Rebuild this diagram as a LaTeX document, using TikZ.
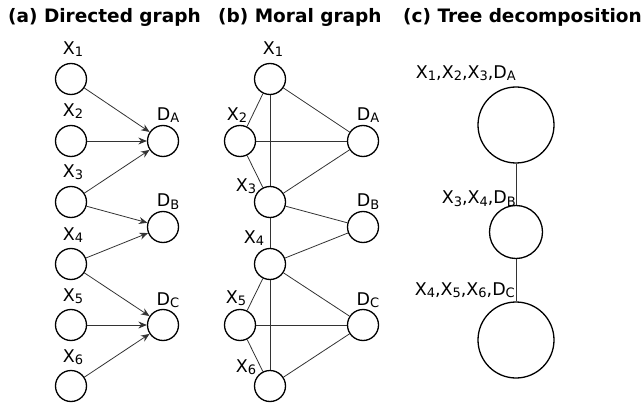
\documentclass[tikz,border=0pt]{standalone}
\usepackage{fontspec}
\setmainfont{DejaVu Sans}
\usetikzlibrary{arrows.meta}
\newcommand{\ssub}[1]{\raisebox{-2pt}{\fontsize{13}{13}\selectfont #1}}
\tikzset{
  vnode/.style={circle,draw=black,line width=1.3pt,minimum size=31pt,inner sep=0pt},
  bignode/.style={circle,draw=black,line width=1.3pt,minimum size=76pt,inner sep=0pt},
  midnode/.style={circle,draw=black,line width=1.3pt,minimum size=53pt,inner sep=0pt},
  lbl/.style={anchor=base,inner sep=0pt,font=\fontsize{17.5}{17.5}\selectfont},
  ttl/.style={anchor=base west,inner sep=0pt,font=\fontsize{18.5}{18.5}\selectfont\bfseries},
  edge/.style={draw=black!80,line width=0.8pt},
  arr/.style={edge,-{Stealth[length=8.5pt,width=7pt]}}
}
\begin{document}
\begin{tikzpicture}[x=1pt,y=-1pt]
\useasboundingbox (0,0) rectangle (642,406);
% titles
\node[ttl] (ta) at (8,23) {(a) Directed graph};
\node[ttl] (tb) at (218,23) {(b) Moral graph};
\node[ttl] (tc) at (403,23) {(c) Tree decomposition};
% (a)
\node[vnode] (a1) at (71,79) {};
\node[vnode] (a2) at (71,141) {};
\node[vnode] (a3) at (71,202) {};
\node[vnode] (a4) at (71,264) {};
\node[vnode] (a5) at (71,325) {};
\node[vnode] (a6) at (71,386) {};
\node[vnode] (aA) at (163,141) {};
\node[vnode] (aB) at (163,227) {};
\node[vnode] (aC) at (163,325) {};
\node[lbl] (la1) at (73,55) {X\ssub{1}};
\node[lbl] (la2) at (73,117) {X\ssub{2}};
\node[lbl] (la3) at (73,178) {X\ssub{3}};
\node[lbl] (la4) at (73,240) {X\ssub{4}};
\node[lbl] (la5) at (73,301) {X\ssub{5}};
\node[lbl] (la6) at (73,362) {X\ssub{6}};
\node[lbl] (laA) at (168,121) {D\ssub{A}};
\node[lbl] (laB) at (168,207) {D\ssub{B}};
\node[lbl] (laC) at (168,305) {D\ssub{C}};
\draw[arr] (a1) -- (aA);
\draw[arr] (a2) -- (aA);
\draw[arr] (a3) -- (aA);
\draw[arr] (a3) -- (aB);
\draw[arr] (a4) -- (aB);
\draw[arr] (a4) -- (aC);
\draw[arr] (a5) -- (aC);
\draw[arr] (a6) -- (aC);
% (b)
\node[vnode] (b1) at (270,79) {};
\node[vnode] (b2) at (240,141) {};
\node[vnode] (b3) at (270,202) {};
\node[vnode] (b4) at (270,264) {};
\node[vnode] (b5) at (240,325) {};
\node[vnode] (b6) at (270,386) {};
\node[vnode] (bA) at (363,141) {};
\node[vnode] (bB) at (363,227) {};
\node[vnode] (bC) at (363,325) {};
\node[lbl] (lb1) at (273,55) {X\ssub{1}};
\node[lbl] (lb2) at (237,121) {X\ssub{2}};
\node[lbl] (lb3) at (246,191) {X\ssub{3}};
\node[lbl] (lb4) at (254,243) {X\ssub{4}};
\node[lbl] (lb5) at (236,303) {X\ssub{5}};
\node[lbl] (lb6) at (246,372) {X\ssub{6}};
\node[lbl] (lbA) at (368,121) {D\ssub{A}};
\node[lbl] (lbB) at (368,207) {D\ssub{B}};
\node[lbl] (lbC) at (368,305) {D\ssub{C}};
\draw[edge] (b1) -- (b2);
\draw[edge] (b1) -- (b3);
\draw[edge] (b1) -- (bA);
\draw[edge] (b2) -- (b3);
\draw[edge] (b2) -- (bA);
\draw[edge] (b3) -- (bA);
\draw[edge] (b3) -- (bB);
\draw[edge] (b3) -- (b4);
\draw[edge] (b4) -- (bB);
\draw[edge] (b4) -- (b5);
\draw[edge] (b4) -- (b6);
\draw[edge] (b4) -- (bC);
\draw[edge] (b5) -- (b6);
\draw[edge] (b5) -- (bC);
\draw[edge] (b6) -- (bC);
% (c)
\node[bignode] (c1) at (516,125) {};
\node[midnode] (c2) at (516,232) {};
\node[bignode] (c3) at (516,340) {};
\node[lbl,anchor=base east] (lc1) at (516,79) {X\ssub{1},X\ssub{2},X\ssub{3},D\ssub{A}};
\node[lbl,anchor=base east] (lc2) at (516,204) {X\ssub{3},X\ssub{4},D\ssub{B}};
\node[lbl,anchor=base east] (lc3) at (515,295) {X\ssub{4},X\ssub{5},X\ssub{6},D\ssub{C}};
\draw[edge] (c1) -- (c2);
\draw[edge] (c2) -- (c3);
\end{tikzpicture}
\end{document}
